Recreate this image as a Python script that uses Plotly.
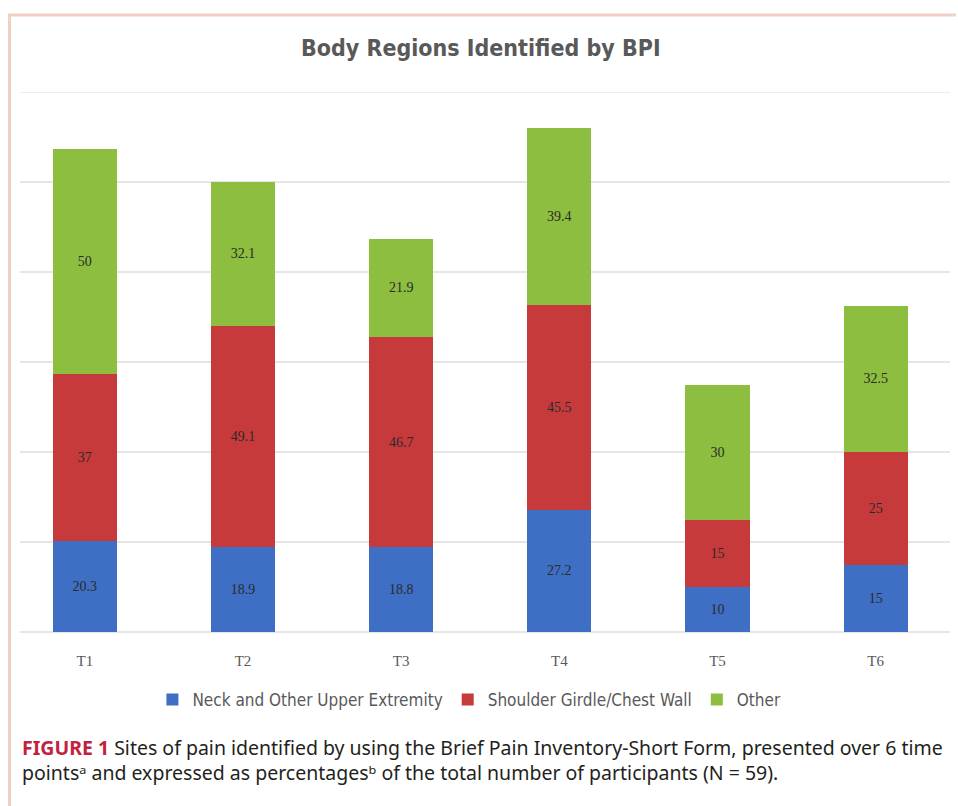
import plotly.graph_objects as go

W, H = 958, 806

categories = ["T1", "T2", "T3", "T4", "T5", "T6"]
neck = [20.3, 18.9, 18.8, 27.2, 10, 15]
shoulder = [37, 49.1, 46.7, 45.5, 15, 25]
other = [50, 32.1, 21.9, 39.4, 30, 32.5]

series_names = ["Neck and Other Upper Extremity", "Shoulder Girdle/Chest Wall", "Other"]
colors = ["#3F6FC4", "#C63A3C", "#8DBE3F"]
y_max = 120

def px_x(p):
    return p / W

def px_y(p):
    return 1 - p / H

fig = go.Figure()
for name, vals, col in zip(series_names, [neck, shoulder, other], colors):
    fig.add_trace(go.Bar(
        x=categories, y=vals, name=name,
        marker=dict(color=col, line=dict(width=0)),
        text=[f"{v:g}" for v in vals],
        textposition="inside", insidetextanchor="middle",
        textfont=dict(family="Liberation Serif", size=14, color="#2a2a2a"),
        cliponaxis=False,
    ))

fig.update_layout(
    width=W, height=H,
    margin=dict(l=0, r=0, t=0, b=0),
    paper_bgcolor="white", plot_bgcolor="white",
    barmode="stack", bargap=0.595,
    showlegend=True,
    legend=dict(orientation="h", x=0.49, xanchor="center", y=px_y(700), yanchor="middle",
                font=dict(family="DejaVu Sans Condensed", size=17, color="#595959"),
                itemwidth=30, traceorder="normal", itemclick=False),
    uniformtext=dict(mode="show", minsize=8),
)
fig.update_xaxes(domain=[px_x(20), px_x(950)], range=[-0.41, 5.47],
                 showgrid=False, showline=False, ticks="", ticklabelstandoff=18,
                 tickfont=dict(family="Liberation Serif", size=15, color="#595959"))
fig.update_yaxes(domain=[px_y(632), px_y(92)], range=[0, y_max], dtick=20,
                 showgrid=True, gridcolor="#E6E6E6", gridwidth=1.5,
                 showticklabels=False, zeroline=True, zerolinecolor="#E6E6E6", showline=False)
# top gridline (plotly omits the gridline at the range edge)
fig.add_shape(type="line", xref="paper", yref="y", x0=px_x(20), x1=px_x(950), y0=y_max, y1=y_max,
              line=dict(color="#E6E6E6", width=1.5), layer="below")

fig.add_annotation(text="<b>Body Regions Identified by BPI</b>", xref="paper", yref="paper",
                   x=px_x(481), y=px_y(48), showarrow=False, xanchor="center", yanchor="middle",
                   font=dict(family="DejaVu Sans Condensed", size=23, color="#595959"))

caption = ("<b><span style='color:#C4213D'>FIGURE 1</span></b> Sites of pain identified by using the Brief Pain "
           "Inventory-Short Form, presented over 6 time<br>points\u1d43 and expressed as percentages\u1d47 "
           "of the total number of participants (N = 59).")
fig.add_annotation(text=caption, xref="paper", yref="paper", x=px_x(20), y=px_y(760),
                   showarrow=False, xanchor="left", yanchor="middle", align="left",
                   font=dict(family="Noto Sans", size=19.5, color="#231F20"))

frame = "#F0CFC5"
fig.add_shape(type="line", xref="paper", yref="paper", x0=px_x(8), x1=px_x(956), y0=px_y(15), y1=px_y(15),
              line=dict(color=frame, width=3))
fig.add_shape(type="line", xref="paper", yref="paper", x0=px_x(9.5), x1=px_x(9.5), y0=px_y(14), y1=px_y(806),
              line=dict(color=frame, width=3))

fig.write_html("out.html", config={"displayModeBar": False},
               post_script="document.body.style.margin='0px';document.body.style.overflow='hidden';")
